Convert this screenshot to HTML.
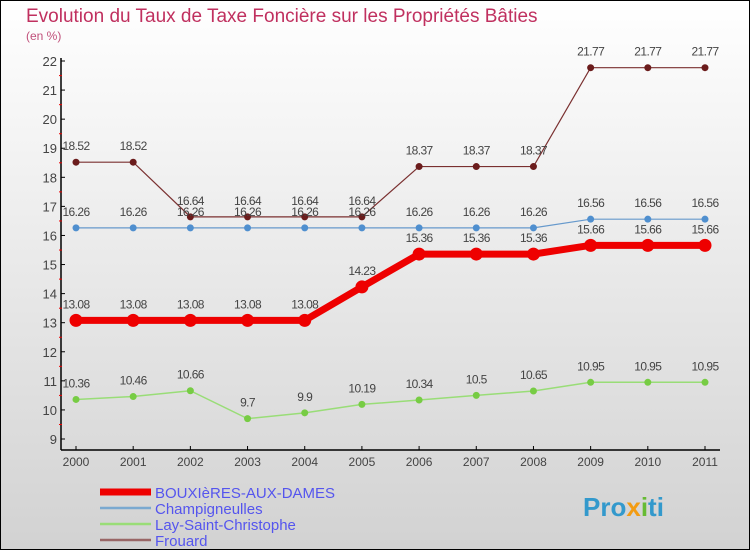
<!DOCTYPE html>
<html><head><meta charset="utf-8">
<style>
body{margin:0;}
#wrap{position:relative;width:750px;height:550px;overflow:hidden;}
svg text{font-family:"Liberation Sans",sans-serif;}
</style></head>
<body>
<div id="wrap">
<svg id="chart" width="750" height="550">
<defs><linearGradient id="bg" x1="0" y1="0" x2="0" y2="1"><stop offset="0" stop-color="#ffffff"/><stop offset="1" stop-color="#d2d2d2"/></linearGradient></defs>
<rect x="0.5" y="0.5" width="749" height="549" fill="url(#bg)" stroke="#000"/>
<text x="26" y="22" font-size="19" fill="#c0305f">Evolution du Taux de Taxe Foncière sur les Propriétés Bâties</text>
<text x="26" y="40" font-size="12" fill="#c0507a">(en %)</text>
<g id="axes"></g>
<g id="series"></g>
<g id="legend"></g>
<text x="583" y="516" font-size="26" font-weight="bold" fill="#3399cc">Pro<tspan fill="#f39c12">x</tspan><tspan fill="#66bb33">i</tspan>ti</text>
</svg>
</div>
<script>
const years=["2000","2001","2002","2003","2004","2005","2006","2007","2008","2009","2010","2011"];
const yTicks=[9,10,11,12,13,14,15,16,17,18,19,20,21,22];
const bouxieres=[13.08,13.08,13.08,13.08,13.08,14.23,15.36,15.36,15.36,15.66,15.66,15.66];
const champigneulles=[16.26,16.26,16.26,16.26,16.26,16.26,16.26,16.26,16.26,16.56,16.56,16.56];
const lay=[10.36,10.46,10.66,9.7,9.9,10.19,10.34,10.5,10.65,10.95,10.95,10.95];
const frouard=[18.52,18.52,16.64,16.64,16.64,16.64,18.37,18.37,18.37,21.77,21.77,21.77];
const seriesNames=["BOUXIèRES-AUX-DAMES","Champigneulles","Lay-Saint-Christophe","Frouard"];

const NS="http://www.w3.org/2000/svg";
function xS(i){return 76+i*(705-76)/11;}
function yS(v){return 439-(v-9)*(439-61)/13;}
function mk(tag,attrs,parent){const e=document.createElementNS(NS,tag);for(const k in attrs)e.setAttribute(k,attrs[k]);parent.appendChild(e);return e;}
const axes=document.getElementById('axes');
let l=mk('line',{x1:61,y1:58,x2:61,y2:450,stroke:'#000','stroke-width':1.5},axes);


l=mk('line',{x1:61,y1:450,x2:720,y2:450,stroke:'#000','stroke-width':1.5},axes);


yTicks.forEach((v,i)=>{
  const y=yS(v);
  mk('line',{x1:61,y1:y,x2:65,y2:y,stroke:'#000'},axes);
  if(i<yTicks.length-1) mk('line',{x1:59,y1:y-14.5,x2:62,y2:y-14.5,stroke:'#e00'},axes);
  const t=mk('text',{x:57,y:y+5,'font-size':13,fill:'#444','text-anchor':'end'},axes);
  t.textContent=v;
  
  
});
years.forEach((yr,i)=>{
  const x=xS(i);
  mk('line',{x1:x,y1:446,x2:x,y2:450,stroke:'#000'},axes);
  const t=mk('text',{x:x,y:466,'font-size':12,fill:'#444','text-anchor':'middle'},axes);
  t.textContent=yr;
  
  
});
const sg=document.getElementById('series');
function draw(data,color,lw,r,dot,name){
  const g=mk('g',{},sg);
  
  
  mk('polyline',{points:data.map((v,i)=>xS(i)+','+yS(v)).join(' '),fill:'none',stroke:color,'stroke-width':lw},g);
  data.forEach((v,i)=>{
    const c=mk('circle',{cx:xS(i),cy:yS(v),r:r,fill:dot},g);
    
    
    const t=mk('text',{x:xS(i),y:yS(v)-12,'font-size':12,fill:'#444','text-anchor':'middle','letter-spacing':'-0.6'},g);
    t.textContent=v;
    
    
  });
}
draw(frouard,'#7a3030',1.2,3.5,'#6b1c1c','frouard-series');
draw(champigneulles,'#6699cc',1.2,3.5,'#4f8fcf','champigneulles-series');
draw(lay,'#99dd77',1.5,3.5,'#77cc44','lay-series');
draw(bouxieres,'#ee0000',7,6.5,'#ee0000','bouxieres-series');
const lg=document.getElementById('legend');
const lc=['#ee0000','#7aa9d0','#99dd77','#996666'];
const lw=[7,2.5,2.5,2.5];
seriesNames.forEach((n,i)=>{
  const y=492+i*16;
  const g=mk('g',{},lg);
  
  
  mk('line',{x1:100,y1:y,x2:151,y2:y,stroke:lc[i],'stroke-width':lw[i]},g);
  const t=mk('text',{x:155,y:y+6,'font-size':15,fill:'#5555ee'},g);
  t.textContent=n;
});
</script>
</body></html>
